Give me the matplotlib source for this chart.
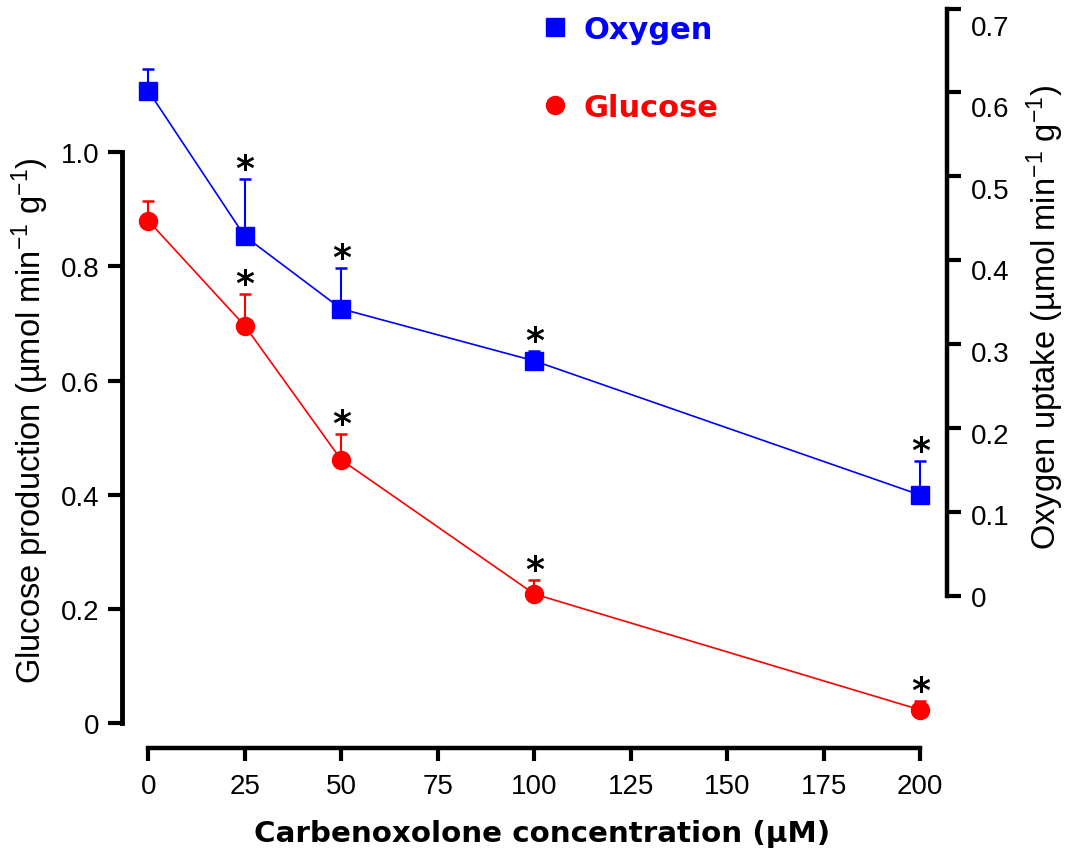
import numpy as np
import matplotlib
matplotlib.use("Agg")
import matplotlib.pyplot as plt
from matplotlib.lines import Line2D
from matplotlib.font_manager import FontProperties
from matplotlib.transforms import ScaledTranslation

# ---- data ----
concentration = [0, 25, 50, 100, 200]
glucose = [0.880, 0.696, 0.461, 0.226, 0.023]
glucose_err = [0.034, 0.056, 0.046, 0.025, 0.015]
oxygen = [0.602, 0.4285, 0.342, 0.280, 0.120]
oxygen_err = [0.026, 0.068, 0.049, 0.012, 0.041]
glucose_sig = [False, True, True, True, True]
oxygen_sig = [False, True, True, True, True]
x_ticks = [0, 25, 50, 75, 100, 125, 150, 175, 200]
glucose_ticks = [0, 0.2, 0.4, 0.6, 0.8, 1.0]
glucose_ticklabels = ["0", "0.2", "0.4", "0.6", "0.8", "1.0"]
oxygen_ticks = [0, 0.1, 0.2, 0.3, 0.4, 0.5, 0.6, 0.7]
oxygen_ticklabels = ["0", "0.1", "0.2", "0.3", "0.4", "0.5", "0.6", "0.7"]
series_names = ["Oxygen", "Glucose"]
xlabel = "Carbenoxolone concentration (µM)"
ylabel_left = "Glucose production (µmol min$^{-1}$ g$^{-1}$)"
ylabel_right = "Oxygen uptake (µmol min$^{-1}$ g$^{-1}$)"

plt.rcParams['font.family'] = ['Liberation Sans', 'DejaVu Sans']
plt.rcParams['mathtext.fontset'] = 'custom'
plt.rcParams['mathtext.rm'] = 'Liberation Sans'
plt.rcParams['mathtext.it'] = 'Liberation Sans:italic'
plt.rcParams['mathtext.bf'] = 'Liberation Sans:bold'
plt.rcParams['mathtext.default'] = 'regular'

W, H = 1066, 853
fig = plt.figure(figsize=(W / 100, H / 100), dpi=100)
# axes box in pixels: x 122..947, y(top) 5..749
ax = fig.add_axes([122 / W, (H - 749) / H, 825 / W, 744 / H])
ax2 = ax.twinx()

BLUE = '#0000FF'
RED = '#FF0000'

x = np.array(concentration, dtype=float)
g = np.array(glucose)
ge = np.array(glucose_err)
o = np.array(oxygen)
oe = np.array(oxygen_err)

# glucose on left axis
ax.errorbar(x, g, yerr=[np.zeros_like(ge), ge], fmt='none', ecolor=RED,
            elinewidth=1.5, capsize=4.5, capthick=1.8, zorder=2)
ax.plot(x, g, '-', color=RED, lw=1.2, zorder=3)
ax.plot(x, g, 'o', color=RED, ms=13, mec=RED, zorder=4)

# oxygen on right axis
ax2.errorbar(x, o, yerr=[np.zeros_like(oe), oe], fmt='none', ecolor=BLUE,
             elinewidth=1.5, capsize=4.5, capthick=1.8, zorder=2)
ax2.plot(x, o, '-', color=BLUE, lw=1.2, zorder=3)
ax2.plot(x, o, 's', color=BLUE, ms=12.5, mec=BLUE, zorder=4)

ast_font = dict(family='DejaVu Sans', weight='bold', size=26, color='black')
for xi, yi, ei, s in zip(x, g, ge, glucose_sig):
    if s:
        ax.annotate('*', xy=(xi, yi + ei), xytext=(0, 0), textcoords='offset points',
                    ha='center', va='baseline', **ast_font)
for xi, yi, ei, s in zip(x, o, oe, oxygen_sig):
    if s:
        ax2.annotate('*', xy=(xi, yi + ei), xytext=(0, 0), textcoords='offset points',
                     ha='center', va='baseline', **ast_font)

# limits: pixel calibration
x0_px, px_per_x = 148.3, 3.86
ax.set_xlim((122 - x0_px) / px_per_x, (947 - x0_px) / px_per_x)
g0_px, px_per_g = 724.0, 570.7
ax.set_ylim((g0_px - 749) / px_per_g, (g0_px - 5) / px_per_g)
o0_px, px_per_o = 596.7, 838.7
ax2.set_ylim((o0_px - 749) / px_per_o, (o0_px - 5) / px_per_o)

# spines
for a in (ax, ax2):
    for sp in a.spines.values():
        sp.set_visible(False)
ax.spines['left'].set_visible(True)
ax.spines['left'].set_bounds(0, 1.0)
ax.spines['left'].set_linewidth(3.5)
ax.spines['bottom'].set_visible(True)
ax.spines['bottom'].set_bounds(0, 200)
ax.spines['bottom'].set_linewidth(3.2)
ax2.spines['right'].set_visible(True)
ax2.spines['right'].set_bounds(0, 0.7)
ax2.spines['right'].set_linewidth(3.2)

ax.set_xticks(x_ticks)
ax.set_xticklabels([str(t) for t in x_ticks])
ax.set_yticks(glucose_ticks)
ax.set_yticklabels(glucose_ticklabels)
ax2.set_yticks(oxygen_ticks)
ax2.set_yticklabels(oxygen_ticklabels)

ax.tick_params(axis='x', direction='out', length=9, width=3, labelsize=20, pad=9)
ax.tick_params(axis='y', direction='out', length=10, width=3, labelsize=20, pad=6.5)
ax2.tick_params(axis='y', direction='out', length=10, width=3, labelsize=20, pad=7)

# right-axis labels sit slightly below their ticks in the reference
for tick, v in zip(ax2.yaxis.get_major_ticks(), oxygen_ticks):
    lab = tick.label2
    lab.set_transform(lab.get_transform() +
                      ScaledTranslation(0, -23.0 * v / 100.0, fig.dpi_scale_trans))

ax.set_xlabel(xlabel, fontsize=21.2, fontweight='bold', family='DejaVu Sans')
ax.xaxis.set_label_coords((542 - 122) / 825, -(834 - 749) / 744)
ax.xaxis.label.set_va('center')

ax.set_ylabel(ylabel_left, fontsize=23.5, va='center')
ax.yaxis.set_label_coords((30 - 122) / 825, (749 - 421) / 744)
ax2.set_ylabel(ylabel_right, fontsize=23.5, va='center', rotation=90)
ax2.yaxis.set_label_coords((1045 - 122) / 825, (749 - 318) / 744)

handles = [Line2D([], [], ls='none', marker='s', color=BLUE, ms=12.5),
           Line2D([], [], ls='none', marker='o', color=RED, ms=13)]
leg = ax2.legend(handles, series_names, loc='upper left',
                 bbox_to_anchor=(539.7 / W, 1 - 16 / H), bbox_transform=fig.transFigure,
                 frameon=False, prop=FontProperties(family='DejaVu Sans', weight='bold', size=22),
                 labelcolor=[BLUE, RED], handlelength=1.0, handletextpad=0.43,
                 labelspacing=1.6, borderpad=0, borderaxespad=0)

fig.savefig('out.png', dpi=100)
